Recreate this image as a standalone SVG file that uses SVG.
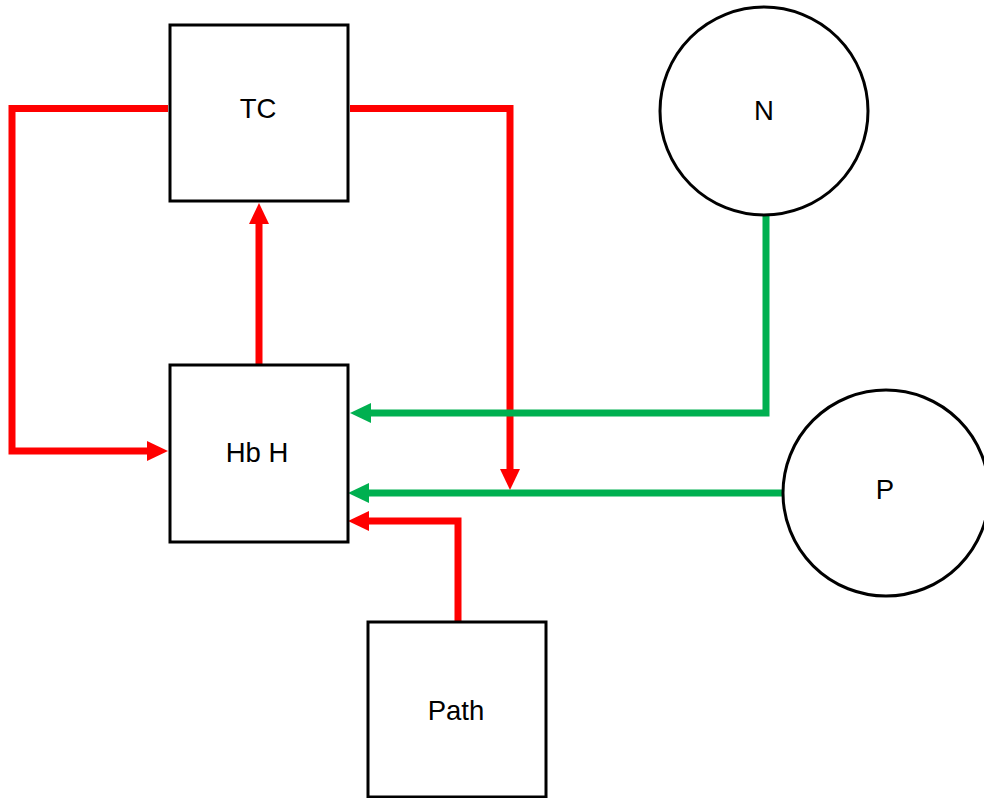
<svg xmlns="http://www.w3.org/2000/svg" width="984" height="798" viewBox="0 0 984 798">
<defs>
<style>
.box{fill:#fff;stroke:#000;stroke-width:3}
.lbl{font-family:"Liberation Sans",Arial,sans-serif;font-size:27.5px;fill:#000;text-anchor:middle}
.red{fill:none;stroke:#FF0000;stroke-width:7}
.grn{fill:none;stroke:#00B050;stroke-width:7}
</style>
<marker id="ar" markerUnits="userSpaceOnUse" viewBox="0 0 21 20" markerWidth="21" markerHeight="20" refX="1" refY="10" orient="auto"><path d="M0,0 L21,10 L0,20 z" fill="#FF0000"/></marker>
<marker id="ag" markerUnits="userSpaceOnUse" viewBox="0 0 21 20" markerWidth="21" markerHeight="20" refX="1" refY="10" orient="auto"><path d="M0,0 L21,10 L0,20 z" fill="#00B050"/></marker>
</defs>
<g id="connectors">
<path class="red" d="M168,108.5 H12 V451 H148" marker-end="url(#ar)"/>
<path class="red" d="M350,108.5 H510 V470" marker-end="url(#ar)"/>
<path class="red" d="M259,364 V223" marker-end="url(#ar)"/>
<path class="grn" d="M766,216 V413 H370" marker-end="url(#ag)"/>
<path class="grn" d="M783,493 H368" marker-end="url(#ag)"/>
<path class="red" d="M458,622 V521 H368" marker-end="url(#ar)"/>
</g>
<g id="TC"><rect class="box" x="170" y="25" width="178" height="176"/><text class="lbl" x="258" y="118">TC</text></g>
<g id="HbH"><rect class="box" x="170" y="365" width="178" height="177"/><text class="lbl" x="257" y="462">Hb H</text></g>
<g id="Path"><rect class="box" x="368" y="622" width="178" height="175"/><text class="lbl" x="456" y="720">Path</text></g>
<g id="N"><circle class="box" cx="764" cy="111" r="104"/><text class="lbl" x="764" y="120">N</text></g>
<g id="P"><circle class="box" cx="886" cy="493" r="103"/><text class="lbl" x="885" y="499">P</text></g>
</svg>
